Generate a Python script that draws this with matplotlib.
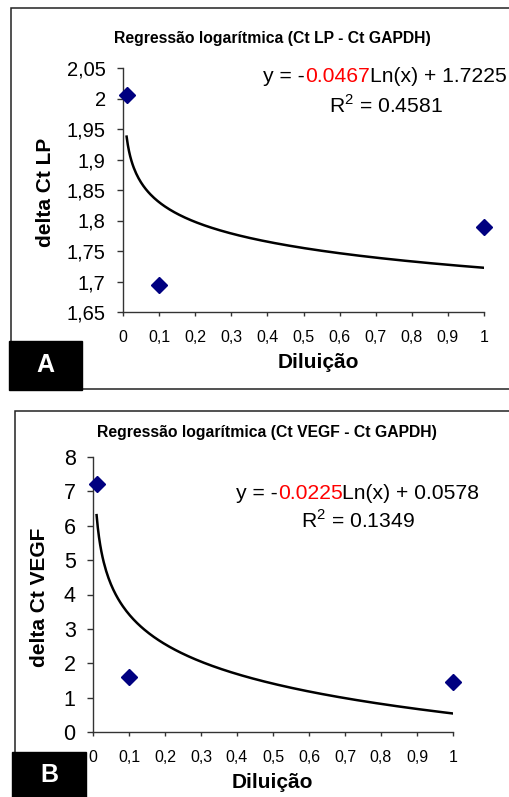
import matplotlib
matplotlib.use('Agg')
import matplotlib.pyplot as plt
from matplotlib.patches import Rectangle
import numpy as np

plt.rcParams['font.family'] = ['Liberation Sans', 'DejaVu Sans']
plt.rcParams['mathtext.fontset'] = 'custom'
plt.rcParams['mathtext.rm'] = 'Liberation Sans'

W, H = 510, 797

# data
dilution = [0.01, 0.1, 1.0]
delta_lp = [2.005, 1.695, 1.79]
delta_vegf = [7.22, 1.6, 1.45]

x_ticks = [0, 0.1, 0.2, 0.3, 0.4, 0.5, 0.6, 0.7, 0.8, 0.9, 1]
x_labels = ['0', '0,1', '0,2', '0,3', '0,4', '0,5', '0,6', '0,7', '0,8', '0,9', '1']
lp_ticks = [1.65, 1.7, 1.75, 1.8, 1.85, 1.9, 1.95, 2.0, 2.05]
lp_labels = ['1,65', '1,7', '1,75', '1,8', '1,85', '1,9', '1,95', '2', '2,05']
vegf_ticks = [0, 1, 2, 3, 4, 5, 6, 7, 8]
vegf_labels = ['0', '1', '2', '3', '4', '5', '6', '7', '8']

eq_lp = ('y = -', '0.0467', 'Ln(x) + 1.7225')
r2_lp = 'R$^{2}$ = 0.4581'
eq_vegf = ('y = -', '0.0225', 'Ln(x) + 0.0578')
r2_vegf = 'R$^{2}$ = 0.1349'


def fx(x):
    return x / W


def fy(y):
    return 1 - y / H


fig = plt.figure(figsize=(W / 100, H / 100), dpi=100)


def add_panel(box, ax_px, xs, ys, yticks, ylabels, ytick_size, title, title_xy,
              ylabel, ylabel_xy, xlabel_xy, eq, eq_xy, r2, r2_xy, letter, letter_box):
    # outer frame
    l, t, r, b = box
    fig.add_artist(Rectangle((fx(l), fy(b)), fx(r - l), (b - t) / H, transform=fig.transFigure,
                             fill=False, lw=1.1, edgecolor='#222222', clip_on=False))

    al, at, ar, ab = ax_px
    ax = fig.add_axes([fx(al), fy(ab), (ar - al) / W, (ab - at) / H])
    ax.set_xlim(0, 1)
    ax.set_ylim(yticks[0], yticks[-1])
    for s in ['top', 'right']:
        ax.spines[s].set_visible(False)
    for s in ['left', 'bottom']:
        ax.spines[s].set_color('#333333')
        ax.spines[s].set_linewidth(1.0)
    ax.set_xticks(x_ticks)
    ax.set_xticklabels(x_labels)
    ax.set_yticks(yticks)
    ax.set_yticklabels(ylabels)
    ax.tick_params(axis='x', length=3, width=1, color='#333333', pad=10, labelsize=11.5)
    ax.tick_params(axis='y', length=4.5, width=1, color='#333333', pad=8, labelsize=ytick_size)

    # logarithmic trendline fitted to the points
    slope, icpt = np.polyfit(np.log(xs), ys, 1)
    xx = np.linspace(min(xs), max(xs), 300)
    ax.plot(xx, slope * np.log(xx) + icpt, color='black', lw=1.8)
    ax.plot(xs, ys, linestyle='none', marker='D', ms=8.5, color='#000080', clip_on=False, zorder=5)

    fig.text(fx(title_xy[0]), fy(title_xy[1]), title, ha='center', va='center',
             fontsize=11.3, fontweight='bold')
    fig.text(fx(ylabel_xy[0]), fy(ylabel_xy[1]), ylabel, ha='center', va='center',
             rotation=90, fontsize=15, fontweight='bold')
    fig.text(fx(xlabel_xy[0]), fy(xlabel_xy[1]), 'Dilui\u00e7\u00e3o', ha='center', va='center',
             fontsize=15, fontweight='bold')

    # equation with red coefficient
    fig.canvas.draw()
    rend = fig.canvas.get_renderer()
    x0 = eq_xy[0]
    for part, col in zip(eq, ['black', 'red', 'black']):
        tt = fig.text(fx(x0), fy(eq_xy[1]), part, ha='left', va='center', fontsize=15.2, color=col)
        x0 += tt.get_window_extent(rend).width
    fig.text(fx(r2_xy[0]), fy(r2_xy[1]), r2, ha='center', va='center', fontsize=15.2)

    # letter tag
    bl, bt, br, bb = letter_box
    fig.add_artist(Rectangle((fx(bl), fy(bb)), (br - bl) / W, (bb - bt) / H,
                             transform=fig.transFigure, facecolor='black', edgecolor='black',
                             clip_on=False))
    fig.text(fx((bl + br) / 2), fy((bt + min(bb, H)) / 2), letter, ha='center', va='center',
             fontsize=18, fontweight='bold', color='white')
    return ax


add_panel((11, 8, 530, 389), (123, 68, 484, 312), dilution, delta_lp, lp_ticks, lp_labels, 14.5,
          'Regress\u00e3o logar\u00edtmica (Ct LP - Ct GAPDH)', (272, 38),
          'delta Ct LP', (46, 192), (318, 363), eq_lp, (263, 76), r2_lp, (386, 106),
          'A', (9, 341, 82, 390))

add_panel((15, 411, 530, 820), (93, 457, 453, 732), dilution, delta_vegf, vegf_ticks, vegf_labels, 15.5,
          'Regress\u00e3o logar\u00edtmica (Ct VEGF - Ct GAPDH)', (267, 432),
          'delta Ct VEGF', (40, 597), (272, 782), eq_vegf, (236, 493), r2_vegf, (358, 521),
          'B', (12, 752, 86, 820))

fig.savefig('out.png', dpi=100)
